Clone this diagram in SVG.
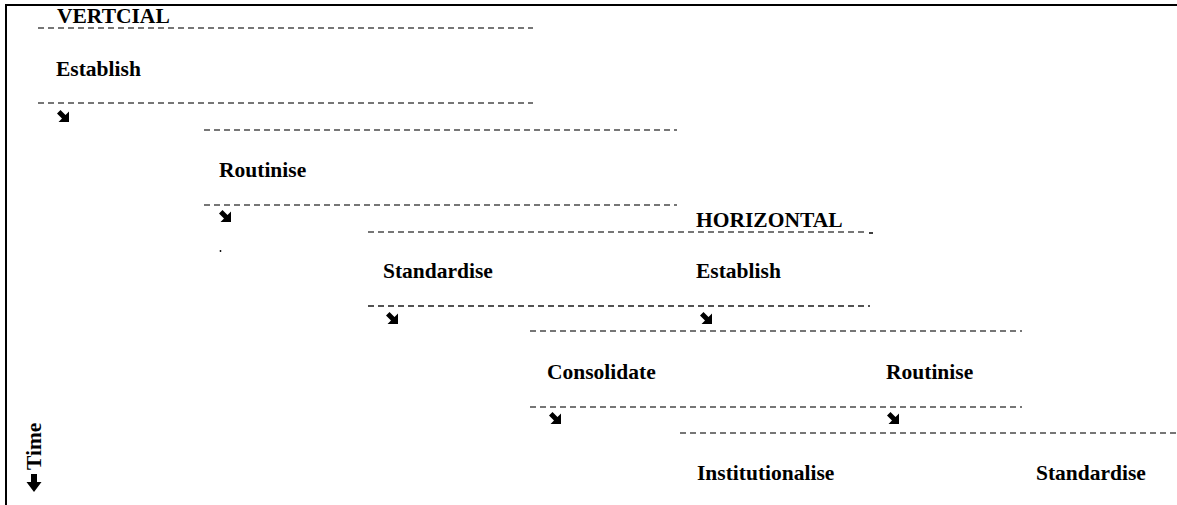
<svg xmlns="http://www.w3.org/2000/svg" width="1177" height="505" viewBox="0 0 1177 505">
<style>
.lbl{font-family:"Liberation Serif","Times New Roman",serif;font-weight:bold;font-size:21.5px;fill:#000}
.dash{stroke:#4a4a4a;stroke-width:1.3;stroke-dasharray:6 4;fill:none}
.dash2{stroke:#1a1a1a;stroke-width:1.7;stroke-dasharray:6 4;fill:none}
</style>
<defs>
<polygon id="arr" points="0,3.5 3.5,0 8.5,5 12,1.5 12,12 1.5,12 5,8.5" fill="#000"/>
</defs>
<rect width="1177" height="505" fill="#fff"/>
<g id="frame">
<line x1="5" y1="5" x2="1177" y2="5" stroke="#000" stroke-width="2"/>
<line x1="6" y1="4" x2="6" y2="505" stroke="#000" stroke-width="2"/>
</g>
<g id="connectors">
<line class="dash" x1="38" y1="28" x2="533" y2="28"/>
<line class="dash" x1="38" y1="103" x2="533" y2="103"/>
<line class="dash" x1="204" y1="130" x2="677" y2="130"/>
<line class="dash" x1="204" y1="205" x2="677" y2="205"/>
<line class="dash" x1="368" y1="232" x2="868" y2="232"/>
<line x1="869" y1="233" x2="873" y2="233" stroke="#000" stroke-width="1.5"/>
<line class="dash2" x1="368" y1="306" x2="870" y2="306"/>
<line class="dash" x1="530" y1="331" x2="1022" y2="331"/>
<line class="dash" x1="530" y1="407" x2="1022" y2="407"/>
<line class="dash" x1="680" y1="433" x2="1177" y2="433"/>
<use href="#arr" x="57" y="110"/>
<use href="#arr" x="219" y="210"/>
<use href="#arr" x="386" y="312"/>
<use href="#arr" x="700" y="312"/>
<use href="#arr" x="549" y="412"/>
<use href="#arr" x="887" y="412"/>
<circle cx="220.5" cy="251" r="0.9" fill="#000"/>
</g>
<g id="n-vertical"><text class="lbl" x="57" y="23">VERTCIAL</text></g>
<g id="n-v-establish"><text class="lbl" x="56" y="76">Establish</text></g>
<g id="n-v-routinise"><text class="lbl" x="219" y="177">Routinise</text></g>
<g id="n-v-standardise"><text class="lbl" x="383" y="278">Standardise</text></g>
<g id="n-v-consolidate"><text class="lbl" x="547" y="379">Consolidate</text></g>
<g id="n-v-institutionalise"><text class="lbl" x="697" y="480">Institutionalise</text></g>
<g id="n-horizontal"><text class="lbl" x="696" y="227">HORIZONTAL</text></g>
<g id="n-h-establish"><text class="lbl" x="696" y="278">Establish</text></g>
<g id="n-h-routinise"><text class="lbl" x="886" y="379">Routinise</text></g>
<g id="n-h-standardise"><text class="lbl" x="1036" y="480">Standardise</text></g>
<g id="time">
<text class="lbl" transform="translate(41,470) rotate(-90)">Time</text>
<polygon points="31,474 37,474 37,482 41.5,482 34,492 26.5,482 31,482" fill="#000"/>
</g>
</svg>
